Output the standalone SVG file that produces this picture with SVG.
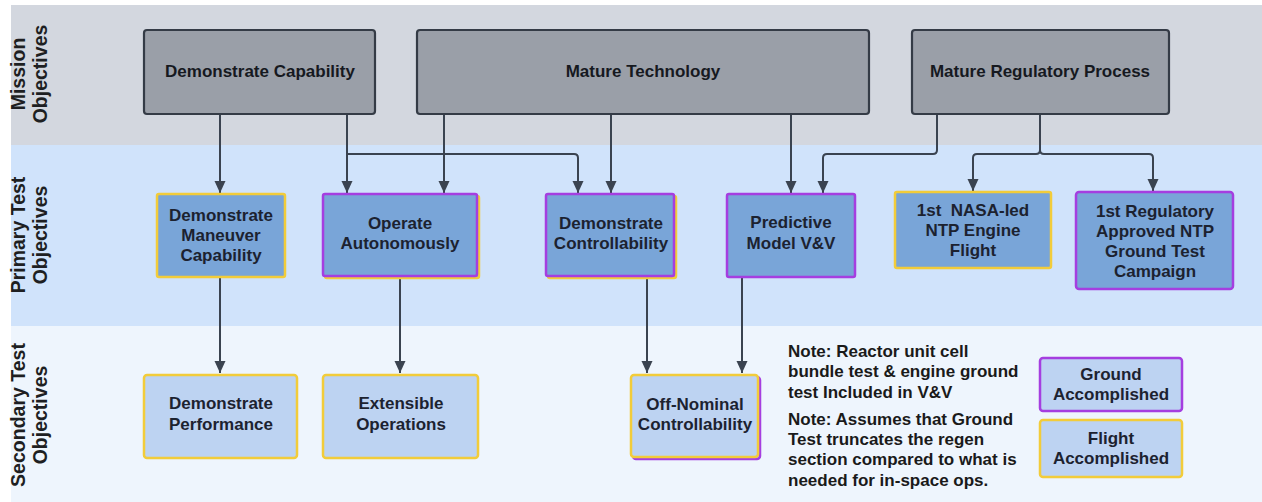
<svg xmlns="http://www.w3.org/2000/svg" width="1262" height="502" viewBox="0 0 1262 502">
<style>
text{font-family:"Liberation Sans",Arial,sans-serif;font-weight:bold;fill:#1c2230;}
.lbl{font-size:19.5px;fill:#1e1f22;text-anchor:middle;}
.mt{font-size:17px;text-anchor:middle;fill:#16191f;}
.nt{font-size:17px;text-anchor:middle;}
.note{font-size:17px;fill:#1a1a1a;}
.mis{fill:#9a9fa8;stroke:#343b46;stroke-width:2.2;}
.pri{fill:#79a5d8;stroke-width:2.5;}
.sec{fill:#bdd3f2;stroke-width:2.5;}
.yel{stroke:#f2cc3a;}
.pur{stroke:#a53ee0;}
.con path{fill:none;stroke:#3a4350;stroke-width:2;}
</style>
<defs>
<marker id="ah" markerUnits="userSpaceOnUse" markerWidth="12" markerHeight="12" refX="12" refY="6" orient="auto">
<path d="M0,0.5 L12,6 L0,11.5 z" fill="#3a4350"/>
</marker>
</defs>
<rect x="0" y="0" width="1262" height="502" fill="#ffffff"/>
<rect x="11" y="5" width="1251" height="140" fill="#d3d7df"/>
<rect x="11" y="145" width="1251" height="181" fill="#d0e3fb"/>
<rect x="11" y="326" width="1251" height="176" fill="#eef5fd"/>
<g id="lane-labels">
<text class="lbl" transform="translate(25,74) rotate(-90)">Mission</text>
<text class="lbl" transform="translate(47,74) rotate(-90)">Objectives</text>
<text class="lbl" transform="translate(25,235) rotate(-90)">Primary Test</text>
<text class="lbl" transform="translate(47,235) rotate(-90)">Objectives</text>
<text class="lbl" transform="translate(25,415) rotate(-90)">Secondary Test</text>
<text class="lbl" transform="translate(47,415) rotate(-90)">Objectives</text>
</g>
<g class="con" id="connectors">
<path d="M220,114 V193" marker-end="url(#ah)"/>
<path d="M347,114 V193" marker-end="url(#ah)"/>
<path d="M347,154 H574 Q578,154 578,158 V193" marker-end="url(#ah)"/>
<path d="M444,114 V193" marker-end="url(#ah)"/>
<path d="M611,114 V193" marker-end="url(#ah)"/>
<path d="M791,114 V193" marker-end="url(#ah)"/>
<path d="M937,114 V150 Q937,154 933,154 H827 Q823,154 823,158 V193" marker-end="url(#ah)"/>
<path d="M1040,114 V150 Q1040,154 1036,154 H977 Q973,154 973,158 V191" marker-end="url(#ah)"/>
<path d="M1040,150 Q1040,154 1044,154 H1149 Q1153,154 1153,158 V191" marker-end="url(#ah)"/>
<path d="M220,278 V373" marker-end="url(#ah)"/>
<path d="M400,278 V373" marker-end="url(#ah)"/>
<path d="M647,278 V373" marker-end="url(#ah)"/>
<path d="M742,278 V373" marker-end="url(#ah)"/>
</g>
<g id="demonstrate-capability">
<rect class="mis" x="144" y="30" width="231" height="84" rx="3"/>
<text class="mt" x="260" y="77">Demonstrate Capability</text>
</g>
<g id="mature-technology">
<rect class="mis" x="417" y="30" width="452" height="84" rx="3"/>
<text class="mt" x="643" y="77">Mature Technology</text>
</g>
<g id="mature-regulatory-process">
<rect class="mis" x="912" y="30" width="257" height="84" rx="3"/>
<text class="mt" x="1040" y="77">Mature Regulatory Process</text>
</g>
<g id="demonstrate-maneuver-capability">
<rect class="pri yel" x="157" y="194" width="128" height="83" rx="2"/>
<text class="nt" x="221" y="221">Demonstrate</text>
<text class="nt" x="221" y="241">Maneuver</text>
<text class="nt" x="221" y="261">Capability</text>
</g>
<g id="operate-autonomously">
<rect class="pri yel" x="325" y="196" width="154" height="82" rx="2"/>
<rect class="pri pur" x="323" y="194" width="154" height="82" rx="2"/>
<text class="nt" x="400" y="229">Operate</text>
<text class="nt" x="400" y="249">Autonomously</text>
</g>
<g id="demonstrate-controllability">
<rect class="pri yel" x="548" y="196" width="128" height="82" rx="2"/>
<rect class="pri pur" x="546" y="194" width="128" height="82" rx="2"/>
<text class="nt" x="611" y="229">Demonstrate</text>
<text class="nt" x="611" y="249">Controllability</text>
</g>
<g id="predictive-model">
<rect class="pri pur" x="727" y="194" width="128" height="83" rx="2"/>
<text class="nt" x="791" y="228">Predictive</text>
<text class="nt" x="791" y="249">Model V&amp;V</text>
</g>
<g id="nasa-led-flight">
<rect class="pri yel" x="895" y="192" width="156" height="76" rx="2"/>
<text class="nt" x="973" y="216" xml:space="preserve">1st  NASA-led</text>
<text class="nt" x="973" y="236">NTP Engine</text>
<text class="nt" x="973" y="256">Flight</text>
</g>
<g id="regulatory-ground-test">
<rect class="pri pur" x="1076" y="192" width="157" height="97" rx="3"/>
<text class="nt" x="1155" y="217">1st Regulatory</text>
<text class="nt" x="1155" y="237">Approved NTP</text>
<text class="nt" x="1155" y="257">Ground Test</text>
<text class="nt" x="1155" y="277">Campaign</text>
</g>
<g id="demonstrate-performance">
<rect class="sec yel" x="144" y="375" width="153" height="83" rx="3"/>
<text class="nt" x="221" y="409">Demonstrate</text>
<text class="nt" x="221" y="430">Performance</text>
</g>
<g id="extensible-operations">
<rect class="sec yel" x="323" y="375" width="155" height="83" rx="3"/>
<text class="nt" x="401" y="409">Extensible</text>
<text class="nt" x="401" y="430">Operations</text>
</g>
<g id="off-nominal-controllability">
<rect class="sec pur" x="633" y="377" width="127" height="82" rx="3"/>
<rect class="sec yel" x="631" y="375" width="127" height="82" rx="3"/>
<text class="nt" x="695" y="410">Off-Nominal</text>
<text class="nt" x="695" y="430">Controllability</text>
</g>
<g id="notes">
<text class="note" x="788" y="357">Note: Reactor unit cell</text>
<text class="note" x="788" y="377">bundle test &amp; engine ground</text>
<text class="note" x="788" y="398">test Included in V&amp;V</text>
<text class="note" x="788" y="425">Note: Assumes that Ground</text>
<text class="note" x="788" y="445">Test truncates the regen</text>
<text class="note" x="788" y="465">section compared to what is</text>
<text class="note" x="788" y="486">needed for in-space ops.</text>
</g>
<g id="legend-ground">
<rect class="sec pur" x="1040" y="358" width="142" height="53" rx="3"/>
<text class="nt" x="1111" y="380">Ground</text>
<text class="nt" x="1111" y="400">Accomplished</text>
</g>
<g id="legend-flight">
<rect class="sec yel" x="1040" y="420" width="142" height="57" rx="3"/>
<text class="nt" x="1111" y="444">Flight</text>
<text class="nt" x="1111" y="464">Accomplished</text>
</g>
</svg>
